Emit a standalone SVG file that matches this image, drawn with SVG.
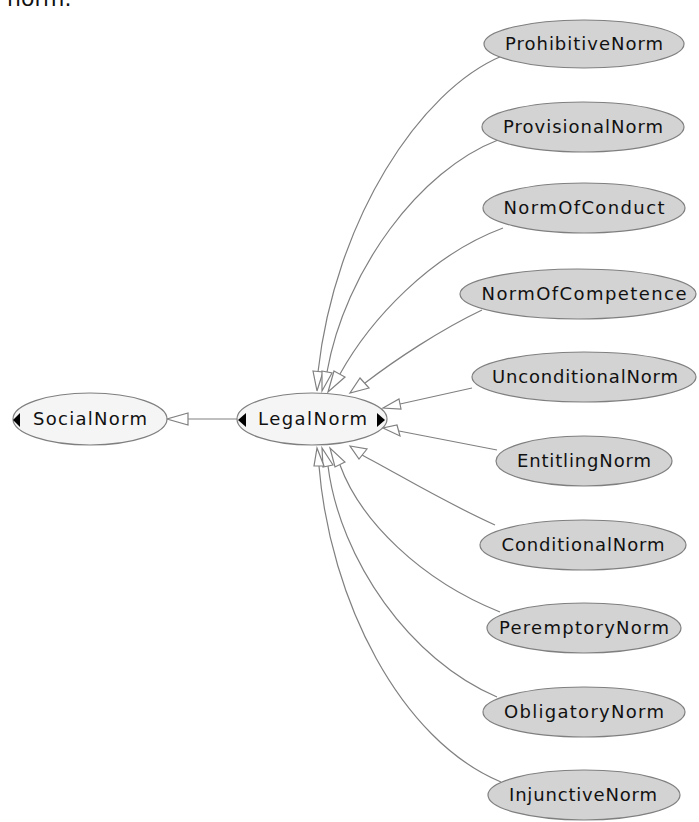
<svg xmlns="http://www.w3.org/2000/svg" width="699" height="822" viewBox="0 0 699 822">
<style>
.bg{fill:#ffffff}
.w{fill:#f5f5f5;stroke:#7f7f7f;stroke-width:1.2}
.g{fill:#d3d3d3;stroke:#7f7f7f;stroke-width:1.2}
.t{font-family:"DejaVu Sans",sans-serif;font-size:18px;fill:#111;text-anchor:middle}
.e{fill:none;stroke:#808080;stroke-width:1.2}
.ah{fill:#ffffff;stroke:#808080;stroke-width:1.2}
.tri{fill:#000}
</style>
<rect class="bg" x="0" y="0" width="699" height="822"/>
<text x="7" y="6" style="font-family:'DejaVu Sans',sans-serif;font-size:22px;fill:#111">norm.</text>
<g id="connectors">
<path class="e" d="M237,419 L188,419"/>
<polygon class="ah" points="188,413 188,425 167,419"/>
<path class="e" d="M502,56 C420,90 335,220 318,372"/>
<polygon class="ah" points="313,371 323,372 317,391"/>
<path class="e" d="M498,140 C420,170 345,270 327,372"/>
<polygon class="ah" points="322,371 332,373 322,391"/>
<path class="e" d="M503,228 C430,255 370,320 340,374"/>
<polygon class="ah" points="334,371 345,377 328,392"/>
<path class="e" d="M482,310 C440,330 395,360 365,383"/>
<polygon class="ah" points="360,378 369,388 350,393"/>
<path class="e" d="M472,388 L400,404"/>
<polygon class="ah" points="399,399 401,409 383,408"/>
<path class="e" d="M497,450 L399,431"/>
<polygon class="ah" points="397,425 400,436 383,428"/>
<path class="e" d="M495,525 C440,500 400,475 362,455"/>
<polygon class="ah" points="367,449 359,459 350,446"/>
<path class="e" d="M500,612 C420,580 360,520 340,465"/>
<polygon class="ah" points="345,462 335,467 330,448"/>
<path class="e" d="M497,697 C410,660 340,560 328,466"/>
<polygon class="ah" points="333,465 323,467 322,448"/>
<path class="e" d="M501,782 C400,740 330,600 319,466"/>
<polygon class="ah" points="324,466 314,466 317,448"/>
</g>
<g id="SocialNorm">
<ellipse class="w" cx="90" cy="419" rx="77" ry="26"/>
<polygon class="tri" points="20,413 20,427 13,420"/>
<text class="t" x="90" y="425" textLength="114" lengthAdjust="spacing">SocialNorm</text>
</g>
<g id="LegalNorm">
<ellipse class="w" cx="312" cy="419" rx="75" ry="26"/>
<polygon class="tri" points="246,413 246,427 238,420"/>
<polygon class="tri" points="377,413 377,427 385,420"/>
<text class="t" x="312.5" y="425" textLength="109" lengthAdjust="spacing">LegalNorm</text>
</g>
<g id="ProhibitiveNorm">
<ellipse class="g" cx="584" cy="44" rx="100" ry="24"/>
<text class="t" x="584" y="50" textLength="158" lengthAdjust="spacing">ProhibitiveNorm</text>
</g>
<g id="ProvisionalNorm">
<ellipse class="g" cx="583" cy="127" rx="101" ry="25"/>
<text class="t" x="583" y="133" textLength="160" lengthAdjust="spacing">ProvisionalNorm</text>
</g>
<g id="NormOfConduct">
<ellipse class="g" cx="584" cy="208" rx="101" ry="25"/>
<text class="t" x="584" y="214" textLength="161" lengthAdjust="spacing">NormOfConduct</text>
</g>
<g id="NormOfCompetence">
<ellipse class="g" cx="578" cy="294" rx="118" ry="25"/>
<text class="t" x="584" y="300" textLength="205" lengthAdjust="spacing">NormOfCompetence</text>
</g>
<g id="UnconditionalNorm">
<ellipse class="g" cx="584" cy="377" rx="112" ry="25"/>
<text class="t" x="585" y="383" textLength="186" lengthAdjust="spacing">UnconditionalNorm</text>
</g>
<g id="EntitlingNorm">
<ellipse class="g" cx="584" cy="461" rx="88" ry="25"/>
<text class="t" x="584" y="467" textLength="134" lengthAdjust="spacing">EntitlingNorm</text>
</g>
<g id="ConditionalNorm">
<ellipse class="g" cx="583" cy="545" rx="103" ry="25"/>
<text class="t" x="583" y="551" textLength="163" lengthAdjust="spacing">ConditionalNorm</text>
</g>
<g id="PeremptoryNorm">
<ellipse class="g" cx="584" cy="628" rx="97" ry="25"/>
<text class="t" x="584" y="634" textLength="170" lengthAdjust="spacing">PeremptoryNorm</text>
</g>
<g id="ObligatoryNorm">
<ellipse class="g" cx="584" cy="712" rx="101" ry="25"/>
<text class="t" x="584" y="718" textLength="160" lengthAdjust="spacing">ObligatoryNorm</text>
</g>
<g id="InjunctiveNorm">
<ellipse class="g" cx="584" cy="795" rx="96" ry="25"/>
<text class="t" x="583" y="801" textLength="148" lengthAdjust="spacing">InjunctiveNorm</text>
</g>
</svg>
